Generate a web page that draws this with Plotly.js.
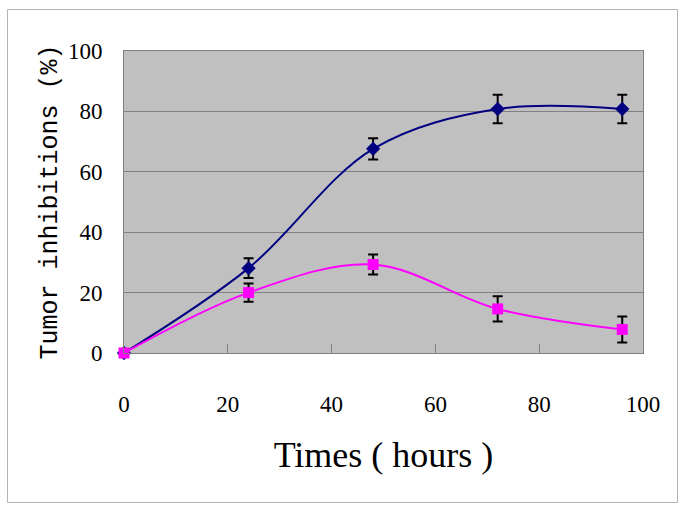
<!DOCTYPE html>
<html>
<head>
<meta charset="utf-8">
<script src="https://cdn.plot.ly/plotly-3.0.1.min.js"></script>
<style>
  html, body { margin: 0; padding: 0; background: #ffffff; }
  #chart { width: 685px; height: 513px; }
</style>
</head>
<body>
<div id="chart"></div>
<script>
// Data
const hours = [0, 24, 48, 72, 96];
const seriesA = [0, 28.1, 67.6, 80.8, 80.8];      // navy diamonds
const seriesAErr = [0, 3.3, 3.5, 4.7, 4.7];
const seriesB = [0, 20.0, 29.3, 14.6, 7.8];       // magenta squares
const seriesBErr = [0, 3.0, 3.3, 4.2, 4.3];
const xTicks = [0, 20, 40, 60, 80, 100];
const yTicks = [0, 20, 40, 60, 80, 100];

const SERIF = 'Liberation Serif, Times New Roman, serif';
const MONO = 'Liberation Mono, Courier New, monospace';

const traceA = {
  x: hours, y: seriesA, type: 'scatter', mode: 'lines+markers',
  line: { color: '#000080', width: 2, shape: 'spline', smoothing: 1 },
  marker: { symbol: 'diamond', size: 11, color: '#000080' },
  error_y: { type: 'data', array: seriesAErr, visible: true, color: '#000000', thickness: 2, width: 5 },
  cliponaxis: false, showlegend: false
};
const traceB = {
  x: hours, y: seriesB, type: 'scatter', mode: 'lines+markers',
  line: { color: '#FF00FF', width: 2, shape: 'spline', smoothing: 1 },
  marker: { symbol: 'square', size: 11, color: '#FF00FF' },
  error_y: { type: 'data', array: seriesBErr, visible: true, color: '#000000', thickness: 2, width: 5 },
  cliponaxis: false, showlegend: false
};

const L = 124, R = 643, T = 51, B = 353, W = 685, H = 513;
const pw = R - L, ph = B - T;
const px = v => (v - L) / pw;
const py = v => (B - v) / ph;

const layout = {
  width: W, height: H,
  margin: { l: L, r: W - R, t: T, b: H - B, pad: 0 },
  paper_bgcolor: '#ffffff',
  plot_bgcolor: '#C0C0C0',
  font: { family: SERIF, color: '#000000', size: 23 },
  xaxis: {
    range: [0, 100], tickvals: xTicks, ticktext: xTicks.map(String),
    showgrid: false, zeroline: false,
    showline: true, linecolor: '#808080', linewidth: 1, mirror: true,
    ticks: 'inside', ticklen: 9, tickcolor: '#808080', tickwidth: 1,
    ticklabelstandoff: 30,
    tickfont: { family: SERIF, size: 23, color: '#000000' },
    title: { text: 'Times ( hours )', font: { family: SERIF, size: 36, color: '#000000' }, standoff: 26 }
  },
  yaxis: {
    range: [0, 100], tickvals: yTicks, ticktext: yTicks.map(String),
    showgrid: true, gridcolor: '#808080', gridwidth: 1, zeroline: false,
    showline: true, linecolor: '#808080', linewidth: 1, mirror: true,
    ticks: '', ticklabelstandoff: 16,
    tickfont: { family: SERIF, size: 23, color: '#000000' },
    title: { text: 'Tumor inhibitions (%)', font: { family: MONO, size: 25, color: '#000000' }, standoff: 3 }
  },
  shapes: [{
    type: 'rect', xref: 'paper', yref: 'paper',
    x0: px(7.5), x1: px(677.5), y0: py(502.5), y1: py(9.5),
    line: { color: '#b4b4b4', width: 1 }, fillcolor: 'rgba(0,0,0,0)', layer: 'below'
  }]
};

Plotly.newPlot('chart', [traceA, traceB], layout, { displayModeBar: false, staticPlot: true });
</script>
</body>
</html>
